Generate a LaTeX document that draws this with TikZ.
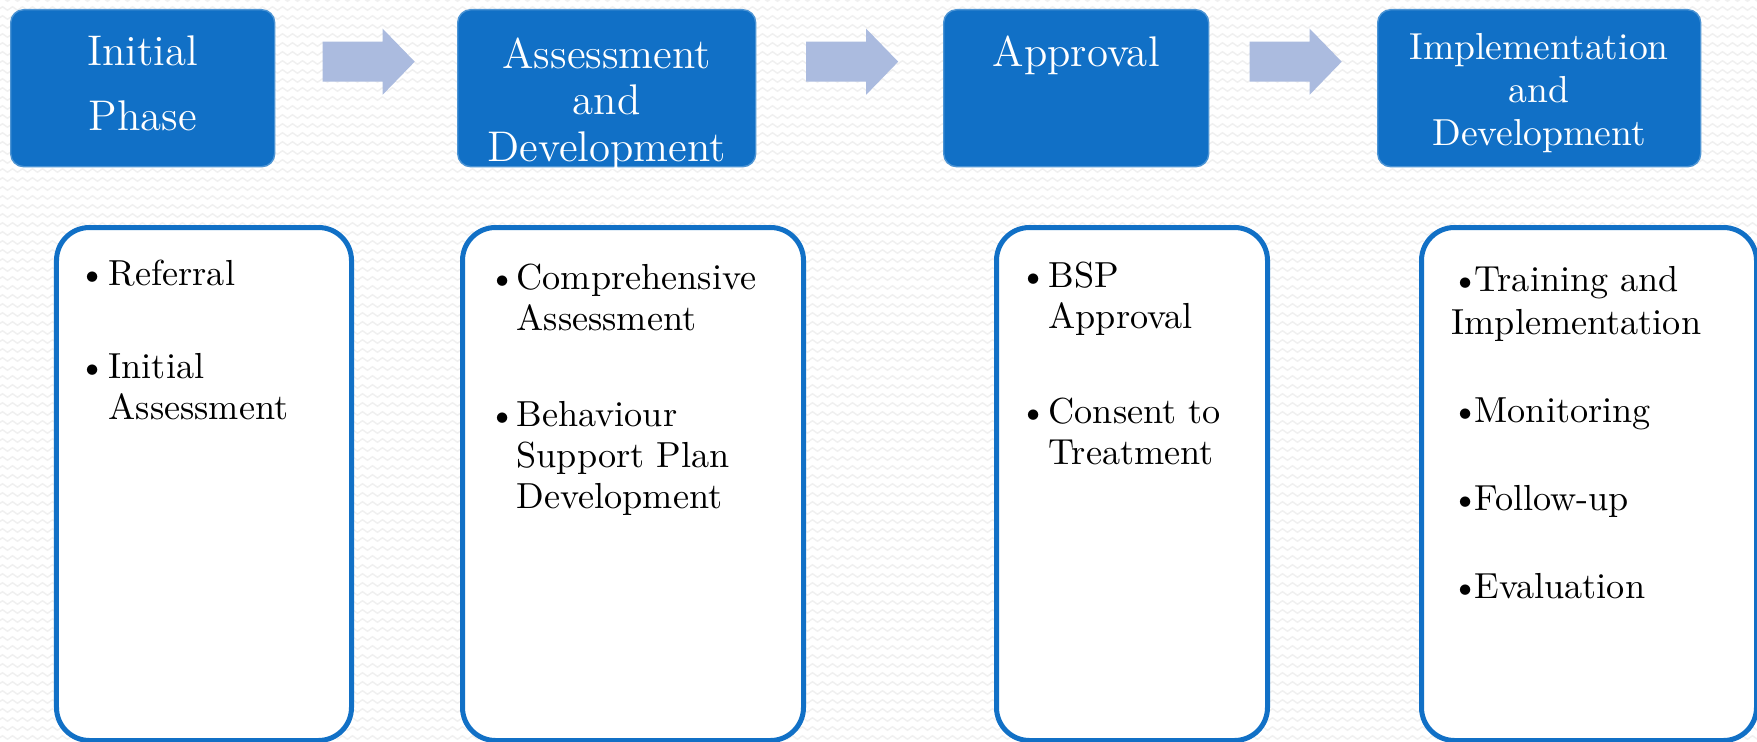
\documentclass[tikz,border=0pt]{standalone}
\usetikzlibrary{calc,patterns}
\definecolor{phaseblue}{RGB}{17,112,198}
\definecolor{arrowblue}{RGB}{171,187,223}
\newlength{\bulw}
\newcommand{\bul}{\makebox[\bulw][l]{\textbullet}}
\newcommand{\ind}{\hspace*{\bulw}}

% small wavy tile for the backdrop
\pgfdeclarepatternformonly{waves}{\pgfpointorigin}{\pgfqpoint{2.845pt}{2.56pt}}{\pgfqpoint{2.845pt}{2.56pt}}{
  \pgfsetlinewidth{0.4pt}
  \pgfpathmoveto{\pgfqpoint{0pt}{1.28pt}}
  \pgfpathsine{\pgfqpoint{0.711pt}{0.5pt}}
  \pgfpathcosine{\pgfqpoint{0.711pt}{-0.5pt}}
  \pgfpathsine{\pgfqpoint{0.711pt}{-0.5pt}}
  \pgfpathcosine{\pgfqpoint{0.711pt}{0.5pt}}
  \pgfusepath{stroke}
}

\begin{document}
\begin{tikzpicture}[
    phase/.style={rectangle, rounded corners=0.13cm, fill=phaseblue, draw=phaseblue!75!white,
      line width=0.4pt, minimum height=1.57cm, inner sep=0, anchor=north west},
    title/.style={text=white, align=center, inner sep=0, anchor=north},
    stepbox/.style={rectangle, rounded corners=0.33cm, draw=phaseblue, line width=0.05cm,
      fill=white, minimum height=5.13cm, inner sep=0, anchor=north west},
    items/.style={align=left, inner sep=0, anchor=north west},
    blockarrow/.style={fill=arrowblue}]
  \useasboundingbox (0,0) rectangle (17.57,7.41);

  % textured backdrop
  \fill[white] (0,0) rectangle (17.57,7.41);
  \fill[pattern=waves, pattern color=black!6] (0,0) rectangle (17.57,7.41);

  % phase headers
  \node[phase, minimum width=2.64cm] (t1) at (0.10,7.32) {};
  \node[phase, minimum width=2.98cm] (t2) at (4.57,7.32) {};
  \node[phase, minimum width=2.65cm] (t3) at (9.43,7.32) {};
  \node[phase, minimum width=3.23cm] (t4) at (13.77,7.32) {};

  \node[title, font=\fontsize{12.2}{18.5}\selectfont] (n1) at ($(t1.north)+(0,-0.26)$) {Initial\\Phase};
  \node[title, font=\fontsize{12.2}{13.2}\selectfont] (n2) at ($(t2.north)+(0,-0.28)$) {Assessment\\and\\Development};
  \node[title, font=\fontsize{12.2}{13.2}\selectfont] (n3) at ($(t3.north)+(0,-0.26)$) {Approval};
  \node[title, font=\fontsize{10.7}{12.2}\selectfont] (n4) at ($(t4.north)+(0,-0.24)$) {Implementation\\and\\Development};

  \foreach \a/\b in {t1/t2,t2/t3,t3/t4}{
    \coordinate (arr-\a) at ($(\a.east)!0.5!(\b.west)+(0.025,0.265)$);
    \fill[blockarrow, shift={(arr-\a)}] (-0.46,0.2) -- (0.14,0.2) -- (0.14,0.33) -- (0.46,0)
      -- (0.14,-0.33) -- (0.14,-0.2) -- (-0.46,-0.2) -- cycle;
  }

  % step lists
  \node[stepbox, minimum width=2.95cm] (b1) at (0.54,5.16) {};
  \node[stepbox, minimum width=3.41cm] (b2) at (4.60,5.16) {};
  \node[stepbox, minimum width=2.71cm] (b3) at (9.94,5.16) {};
  \node[stepbox, minimum width=3.35cm] (b4) at (14.19,5.16) {};

  \node[items, font={\setlength{\bulw}{0.30cm}\fontsize{10.3}{11.5}\selectfont}] (l1) at (0.78,4.814) {%
    \bul Referral\\[15pt]
    \bul Initial\\
    \ind Assessment};
  \node[items, font={\setlength{\bulw}{0.28cm}\fontsize{10.3}{11.6}\selectfont}] (l2) at (4.88,4.774) {%
    \bul Comprehensive\\
    \ind Assessment\\[15.7pt]
    \bul Behaviour\\
    \ind Support Plan\\
    \ind Development};
  \node[items, font={\setlength{\bulw}{0.29cm}\fontsize{10.3}{11.6}\selectfont}] (l3) at (10.19,4.80) {%
    \bul BSP\\
    \ind Approval\\[15.7pt]
    \bul Consent to\\
    \ind Treatment};
  \node[items, font=\fontsize{10.3}{12.2}\selectfont] (l4) at (14.51,4.754) {%
    \textbullet\kern-1.5pt Training and\\
    Implementation\\[12.9pt]
    \textbullet\kern-1.5pt Monitoring\\[12.9pt]
    \textbullet\kern-1.5pt Follow-up\\[12.9pt]
    \textbullet\kern-1.5pt Evaluation};
\end{tikzpicture}
\end{document}
